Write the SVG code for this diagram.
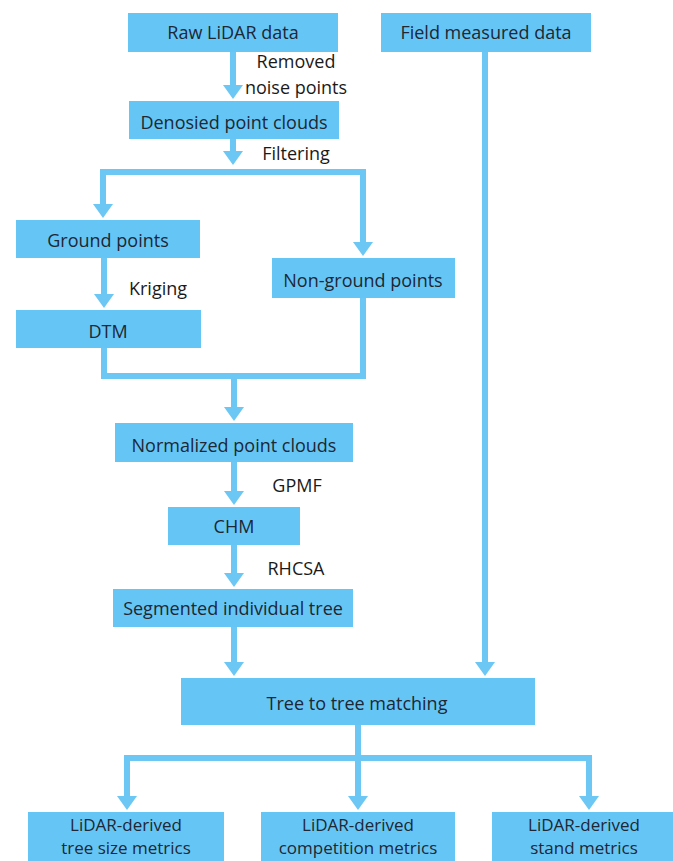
<svg xmlns="http://www.w3.org/2000/svg" width="673" height="861" viewBox="0 0 673 861">
<defs>
<style>
.box{fill:#65C6F6;}
.t{font-family:"Open Sans","Noto Sans","Liberation Sans",sans-serif;font-size:18px;fill:#1e2733;text-anchor:middle;}
.b{font-size:17px;}
.lbl{font-family:"Open Sans","Noto Sans","Liberation Sans",sans-serif;font-size:18px;fill:#1a1a1a;text-anchor:middle;}
.c{fill:none;stroke:#6CC7F4;stroke-width:6;}
</style>
<marker id="ah" viewBox="0 0 14 20" refX="1" refY="10" markerWidth="14" markerHeight="20" markerUnits="userSpaceOnUse" orient="auto">
<path d="M0,0 L14,10 L0,20 z" fill="#6CC7F4"/>
</marker>
</defs>
<rect width="673" height="861" fill="#ffffff"/>
<g id="connectors">
<path class="c" d="M233,52 V86" marker-end="url(#ah)"/>
<path class="c" d="M233,139 V152" marker-end="url(#ah)"/>
<path class="c" d="M363,172 H103 V205" marker-end="url(#ah)"/>
<path class="c" d="M103,172 H363 V243" marker-end="url(#ah)"/>
<path class="c" d="M104,258 V295" marker-end="url(#ah)"/>
<path class="c" d="M104,348 V376 H363 V298"/>
<path class="c" d="M234,376 V408" marker-end="url(#ah)"/>
<path class="c" d="M234,462 V492" marker-end="url(#ah)"/>
<path class="c" d="M234,545 V574" marker-end="url(#ah)"/>
<path class="c" d="M234,627 V663" marker-end="url(#ah)"/>
<path class="c" d="M485,52 V663" marker-end="url(#ah)"/>
<path class="c" d="M358,725 V758"/>
<path class="c" d="M589,758 H127 V797" marker-end="url(#ah)"/>
<path class="c" d="M358,758 V797" marker-end="url(#ah)"/>
<path class="c" d="M127,758 H589 V797" marker-end="url(#ah)"/>
</g>
<g id="labels">
<text class="lbl" x="296" y="68">Removed</text>
<text class="lbl" x="296" y="94">noise points</text>
<text class="lbl" x="296" y="160">Filtering</text>
<text class="lbl" x="158" y="295">Kriging</text>
<text class="lbl" x="297" y="492">GPMF</text>
<text class="lbl" x="296" y="575">RHCSA</text>
</g>
<g id="raw"><rect class="box" x="128" y="13" width="210" height="39"/><text class="t" x="233" y="39">Raw LiDAR data</text></g>
<g id="field"><rect class="box" x="381" y="13" width="210" height="39"/><text class="t" x="486" y="39">Field measured data</text></g>
<g id="denoised"><rect class="box" x="129" y="101" width="210" height="38"/><text class="t" x="234" y="129">Denosied point clouds</text></g>
<g id="ground"><rect class="box" x="16" y="220" width="184" height="38"/><text class="t" x="108" y="247">Ground points</text></g>
<g id="nonground"><rect class="box" x="272" y="258" width="183" height="40"/><text class="t" x="363" y="287">Non-ground points</text></g>
<g id="dtm"><rect class="box" x="16" y="310" width="185" height="38"/><text class="t" x="108" y="338">DTM</text></g>
<g id="normalized"><rect class="box" x="115" y="423" width="238" height="39"/><text class="t" x="234" y="452">Normalized point clouds</text></g>
<g id="chm"><rect class="box" x="168" y="507" width="132" height="38"/><text class="t" x="234" y="533">CHM</text></g>
<g id="segmented"><rect class="box" x="113" y="589" width="240" height="38"/><text class="t" x="233" y="615">Segmented individual tree</text></g>
<g id="matching"><rect class="box" x="181" y="678" width="354" height="47"/><text class="t" x="357" y="710">Tree to tree matching</text></g>
<g id="size"><rect class="box" x="28" y="812" width="196" height="60"/><text class="t b" x="126" y="831">LiDAR-derived</text><text class="t b" x="126" y="854">tree size metrics</text></g>
<g id="competition"><rect class="box" x="261" y="812" width="194" height="60"/><text class="t b" x="358" y="831">LiDAR-derived</text><text class="t b" x="358" y="854">competition metrics</text></g>
<g id="stand"><rect class="box" x="492" y="812" width="184" height="60"/><text class="t b" x="584" y="831">LiDAR-derived</text><text class="t b" x="584" y="854">stand metrics</text></g>
</svg>
